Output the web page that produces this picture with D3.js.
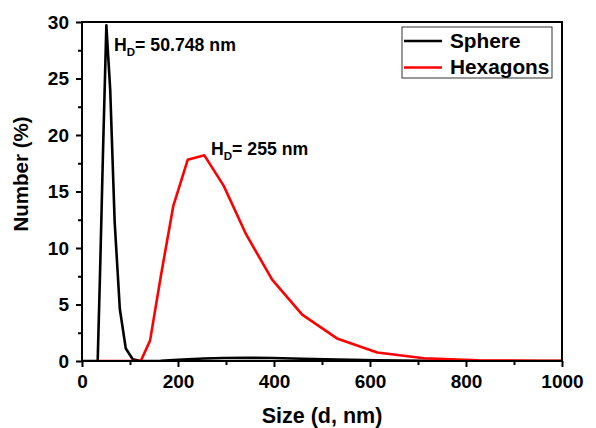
<!DOCTYPE html>
<html>
<head>
<meta charset="utf-8">
<script src="https://cdn.jsdelivr.net/npm/d3@7"></script>
<style>
  body { margin: 0; background: #fff; }
  svg text { font-family: "Liberation Sans", Arial, sans-serif; font-weight: bold; fill: #000; }
</style>
</head>
<body>
<div id="chart"></div>
<script>
// size bins (nm) and number distribution (%)
const sphereSize   = [0.4, 10.1, 21.04, 28.21, 32.67, 37.84, 43.82, 50.75, 58.77, 68.06, 78.82, 91.28, 105.7, 122.4, 141.8, 164.2, 190.1, 220.2, 255.0, 295.3, 342.0, 396.1, 458.7, 531.2, 615.1, 712.4, 825.0, 955.4, 1106];
const sphereNumber = [0, 0, 0, 0, 0, 8.2, 18.6, 29.7, 24.0, 12.3, 4.6, 1.1, 0.15, 0, 0, 0.02, 0.08, 0.15, 0.22, 0.27, 0.28, 0.26, 0.2, 0.12, 0.06, 0.02, 0, 0, 0];

const hexSize   = [32.67, 37.84, 43.82, 50.75, 58.77, 68.06, 78.82, 91.28, 105.7, 122.4, 141.8, 164.2, 190.1, 220.2, 255.0, 295.3, 342.0, 396.1, 458.7, 531.2, 615.1, 712.4, 825.0, 955.4, 1106];
const hexNumber = [0, 0, 0, 0, 0, 0, 0, 0, 0, 0, 1.8, 7.5, 13.7, 17.8, 18.2, 15.5, 11.2, 7.2, 4.1, 2.0, 0.75, 0.25, 0.06, 0.01, 0];

const xTicks = [0, 200, 400, 600, 800, 1000];
const xMinor = [100, 300, 500, 700, 900];
const yTicks = [0, 5, 10, 15, 20, 25, 30];
const yMinor = [2.5, 7.5, 12.5, 17.5, 22.5, 27.5];

const seriesNames = ["Sphere", "Hexagons"];
const seriesColors = ["#000000", "#ff0000"];

(function () {
  const W = 596, H = 428;
  const margin = { top: 22, right: 34, bottom: 67, left: 82 };
  const width  = W - margin.left - margin.right;
  const height = H - margin.top - margin.bottom;

  const svg = d3.select("#chart").append("svg")
      .attr("width", W)
      .attr("height", H);

  const g = svg.append("g")
      .attr("transform", `translate(${margin.left},${margin.top})`);

  const x = d3.scaleLinear().domain([0, 1000]).range([0, width]);
  const y = d3.scaleLinear().domain([0, 30]).range([height, 0]);

  g.append("clipPath").attr("id", "plotclip")
    .append("rect").attr("width", width).attr("height", height);

  // --- lines ---
  const line = d3.line().x(d => x(d[0])).y(d => y(d[1]));
  const series = [
    d3.zip(sphereSize, sphereNumber),
    d3.zip(hexSize, hexNumber)
  ];

  g.append("g").attr("clip-path", "url(#plotclip)")
    .selectAll("path")
    .data(series)
    .join("path")
      .attr("d", line)
      .attr("fill", "none")
      .attr("stroke", (d, i) => seriesColors[i])
      .attr("stroke-width", 2.6)
      .attr("stroke-linejoin", "round");

  // --- axes ---
  g.append("g")
      .attr("transform", `translate(0,${height})`)
      .call(d3.axisBottom(x).tickValues(xTicks).tickSize(6).tickSizeOuter(0).tickPadding(8).tickFormat(d3.format("d")));
  g.append("g")
      .attr("transform", `translate(0,${height})`)
      .call(d3.axisBottom(x).tickValues(xMinor).tickSize(4).tickSizeOuter(0).tickFormat(""));

  g.append("g")
      .call(d3.axisLeft(y).tickValues(yTicks).tickSize(6).tickSizeOuter(0).tickPadding(7));
  g.append("g")
      .call(d3.axisLeft(y).tickValues(yMinor).tickSize(4).tickSizeOuter(0).tickFormat(""));

  g.selectAll(".domain").remove();
  g.selectAll(".tick line").attr("stroke", "#000").attr("stroke-width", 2);
  g.selectAll(".tick text").style("font-size", "19px");

  // frame
  g.append("rect")
    .attr("width", width).attr("height", height)
    .attr("fill", "none").attr("stroke", "#000").attr("stroke-width", 2);

  // axis titles
  svg.append("text")
    .attr("x", margin.left + width / 2).attr("y", 423)
    .attr("text-anchor", "middle")
    .style("font-size", "21.5px")
    .text("Size (d, nm)");

  svg.append("text")
    .attr("transform", "translate(28,174) rotate(-90)")
    .attr("text-anchor", "middle")
    .style("font-size", "20.5px")
    .text("Number (%)");

  // peak annotations
  function hdLabel(px, py, value) {
    const t = svg.append("text").attr("x", px).attr("y", py).style("font-size", "17.7px");
    t.append("tspan").text("H");
    t.append("tspan").attr("dy", 5).style("font-size", "11.5px").text("D");
    t.append("tspan").attr("dy", -5).text(`= ${value} nm`);
  }
  hdLabel(114, 51, "50.748");
  hdLabel(211, 155, "255");

  // legend
  const lg = svg.append("g");
  lg.append("rect")
    .attr("x", 402).attr("y", 27).attr("width", 150).attr("height", 51)
    .attr("fill", "#fff").attr("stroke", "#333").attr("stroke-width", 1);
  seriesNames.forEach((name, i) => {
    const ly = 41 + i * 26.5;
    lg.append("line")
      .attr("x1", 404).attr("x2", 442).attr("y1", ly).attr("y2", ly)
      .attr("stroke", seriesColors[i]).attr("stroke-width", 2.6);
    lg.append("text")
      .attr("x", 450).attr("y", ly + 6.5)
      .style("font-size", "20.8px")
      .text(name);
  });
})();
</script>
</body>
</html>
